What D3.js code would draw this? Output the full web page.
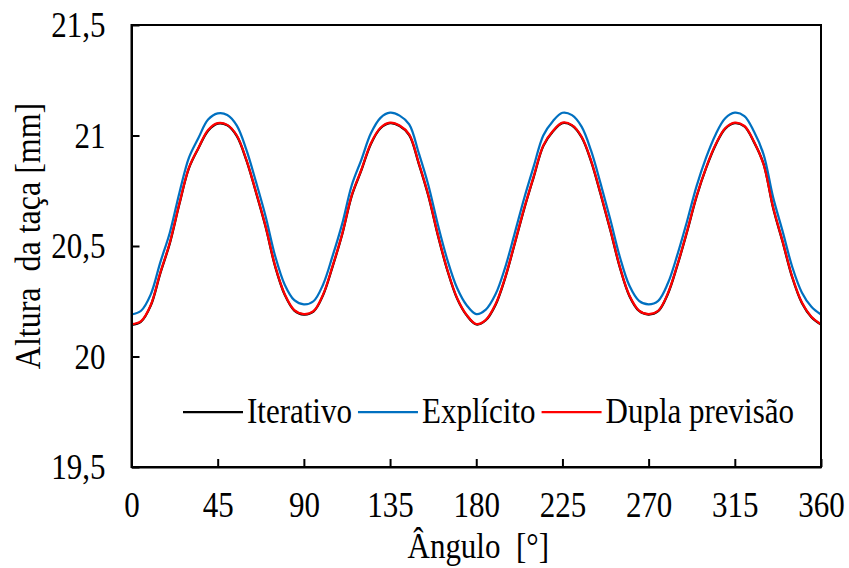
<!DOCTYPE html>
<html>
<head>
<meta charset="utf-8">
<script src="https://cdn.jsdelivr.net/npm/d3@7"></script>
<style>
  html, body { margin: 0; padding: 0; background: #fff; }
  svg { display: block; }
  text { font-family: "Liberation Serif", "Times New Roman", serif; fill: #000; }
</style>
</head>
<body>
<svg id="chart" width="849" height="568"></svg>
<script>
// Cup height vs. angle for three solution methods, sampled every 5°
const angles = d3.range(0, 361, 5);

const iterativo = [
  20.143, 20.158, 20.229, 20.375, 20.512, 20.690, 20.852, 20.943, 21.022, 21.054,
  21.046, 20.997, 20.887, 20.742, 20.587, 20.407, 20.279, 20.208, 20.190, 20.203,
  20.277, 20.407, 20.552, 20.727, 20.842, 20.962, 21.033, 21.056, 21.043, 21.002,
  20.872, 20.727, 20.547, 20.387, 20.262, 20.186, 20.145, 20.164, 20.232, 20.352,
  20.507, 20.667, 20.812, 20.952, 21.018, 21.056, 21.045, 20.992, 20.882, 20.732,
  20.572, 20.402, 20.273, 20.206, 20.190, 20.205, 20.282, 20.412, 20.562, 20.722,
  20.852, 20.957, 21.031, 21.056, 21.041, 20.970, 20.872, 20.672, 20.517, 20.357,
  20.242, 20.178, 20.144
];

const explicito = [
  20.190, 20.207, 20.280, 20.425, 20.560, 20.740, 20.900, 20.990, 21.072, 21.100,
  21.093, 21.045, 20.935, 20.790, 20.635, 20.455, 20.325, 20.255, 20.236, 20.250,
  20.325, 20.455, 20.600, 20.775, 20.890, 21.010, 21.080, 21.103, 21.090, 21.050,
  20.920, 20.775, 20.595, 20.435, 20.310, 20.232, 20.192, 20.212, 20.280, 20.400,
  20.555, 20.715, 20.860, 21.000, 21.065, 21.103, 21.092, 21.040, 20.930, 20.780,
  20.620, 20.450, 20.320, 20.252, 20.236, 20.252, 20.330, 20.460, 20.610, 20.770,
  20.900, 21.005, 21.078, 21.103, 21.088, 21.018, 20.915, 20.720, 20.565, 20.405,
  20.290, 20.225, 20.190
];

const duplaPrevisao = [
  20.146, 20.160, 20.232, 20.378, 20.515, 20.692, 20.855, 20.945, 21.025, 21.056,
  21.048, 21.000, 20.890, 20.745, 20.590, 20.410, 20.282, 20.210, 20.192, 20.205,
  20.280, 20.410, 20.555, 20.730, 20.845, 20.965, 21.035, 21.058, 21.045, 21.005,
  20.875, 20.730, 20.550, 20.390, 20.265, 20.188, 20.147, 20.166, 20.235, 20.355,
  20.510, 20.670, 20.815, 20.955, 21.020, 21.058, 21.047, 20.995, 20.885, 20.735,
  20.575, 20.405, 20.276, 20.208, 20.192, 20.207, 20.285, 20.415, 20.565, 20.725,
  20.855, 20.960, 21.033, 21.058, 21.043, 20.973, 20.870, 20.675, 20.520, 20.360,
  20.245, 20.180, 20.146
];

const xTicks = [0, 45, 90, 135, 180, 225, 270, 315, 360];
const yTicks = [19.5, 20, 20.5, 21, 21.5];
const yTickLabels = ["19,5", "20", "20,5", "21", "21,5"];

const seriesNames = ["Iterativo", "Explícito", "Dupla previsão"];
const seriesColors = ["#000000", "#0070C0", "#FF0000"];
const seriesValues = [iterativo, explicito, duplaPrevisao];

const xTitle = "Ângulo  [°]";
const yTitle = "Altura  da taça [mm]";

// Text is set slightly tall and narrow
const STRETCH = 1.13;
const FONT = 31;

const svg = d3.select("#chart");
const plot = { left: 131.5, right: 821, top: 25, bottom: 467 };

const x = d3.scaleLinear().domain([0, 360]).range([plot.left, plot.right]);
const y = d3.scaleLinear().domain([19.5, 21.5]).range([plot.bottom, plot.top]);

// Series lines (black first, red on top)
const line = d3.line()
  .x(d => x(d[0]))
  .y(d => y(d[1]))
  .curve(d3.curveCatmullRom.alpha(0.5));

seriesValues.forEach((vals, i) => {
  svg.append("path")
    .datum(angles.map((a, k) => [a, vals[k]]))
    .attr("fill", "none")
    .attr("stroke", seriesColors[i])
    .attr("stroke-width", 2.25)
    .attr("stroke-linejoin", "round")
    .attr("d", line);
});

// Plot frame
svg.append("rect")
  .attr("x", plot.left).attr("y", plot.top)
  .attr("width", plot.right - plot.left).attr("height", plot.bottom - plot.top)
  .attr("fill", "none").attr("stroke", "#000").attr("stroke-width", 2);

// Axes with inward ticks
const xAxis = d3.axisBottom(x).tickValues(xTicks).tickSizeInner(-8).tickSizeOuter(0)
  .tickFormat(d3.format("d"));
const gx = svg.append("g").attr("transform", `translate(0,${plot.bottom})`).call(xAxis);

const yAxis = d3.axisLeft(y).tickValues(yTicks).tickSizeInner(-8).tickSizeOuter(0)
  .tickFormat((d, i) => yTickLabels[i]);
const gy = svg.append("g").attr("transform", `translate(${plot.left},0)`).call(yAxis);

[gx, gy].forEach(g => {
  g.select(".domain").attr("stroke", "#000").attr("stroke-width", 2);
  g.selectAll(".tick line").attr("stroke", "#000").attr("stroke-width", 2);
  g.selectAll(".tick text")
    .attr("font-family", "Liberation Serif, Times New Roman, serif")
    .attr("font-size", FONT)
    .attr("fill", "#000")
    .attr("x", 0).attr("y", 0).attr("dy", 0);
});
gx.selectAll(".tick text")
  .attr("transform", `translate(0,50) scale(1,${STRETCH})`);
gy.selectAll(".tick text")
  .attr("transform", `translate(-26,11.5) scale(1,${STRETCH})`);

// Axis titles
svg.append("text")
  .attr("transform", `translate(${(plot.left + plot.right) / 2 + 2},558) scale(1,${STRETCH})`)
  .attr("text-anchor", "middle")
  .attr("font-size", FONT)
  .style("white-space", "pre")
  .text(xTitle);

svg.append("text")
  .attr("transform", `translate(40,236) rotate(-90) scale(1,${STRETCH})`)
  .attr("text-anchor", "middle")
  .attr("font-size", 32)
  .style("white-space", "pre")
  .text(yTitle);

// Legend
const legend = svg.append("g");
let lx = 183;
const ly = 412;
seriesNames.forEach((name, i) => {
  legend.append("line")
    .attr("x1", lx).attr("x2", lx + 60)
    .attr("y1", ly).attr("y2", ly)
    .attr("stroke", seriesColors[i]).attr("stroke-width", 2.25);
  const t = legend.append("text")
    .attr("transform", `translate(${lx + 64},${ly + 11}) scale(1,${STRETCH})`)
    .attr("font-size", FONT)
    .text(name);
  lx = lx + 64 + t.node().getComputedTextLength() + 6;
});
</script>
</body>
</html>
